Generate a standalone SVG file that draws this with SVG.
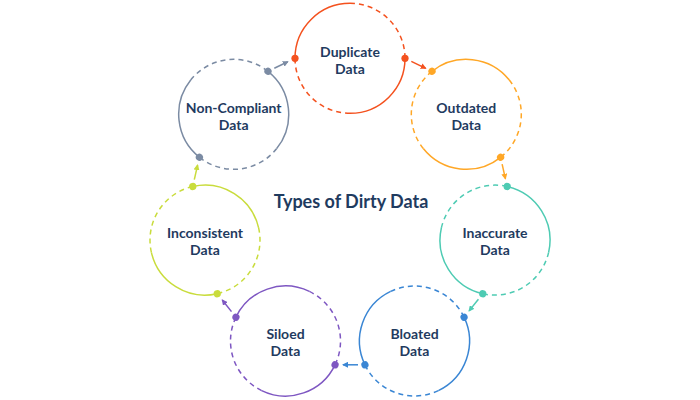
<svg xmlns="http://www.w3.org/2000/svg" xmlns:xlink="http://www.w3.org/1999/xlink" width="700" height="400" viewBox="0 0 700 400">
<style>
.lbl{font-family:Lato,"Liberation Sans",sans-serif;font-weight:700;font-size:14px;fill:#1F3B5F;text-anchor:middle}
.title{font-family:Lato,"Liberation Sans",sans-serif;font-weight:700;font-size:18px;fill:#1F3B5F;text-anchor:middle}
.solid{fill:none;stroke:currentColor;stroke-width:1.5}
.dash{fill:none;stroke:currentColor;stroke-width:1.5;stroke-dasharray:5 4}
.dot{fill:currentColor}
.arr{fill:none;stroke-width:1.5}
</style>
<defs>
<g id="ring">
<path class="solid" d="M0,-55 A55,55 0 0 1 55,0 M0,55 A55,55 0 0 1 -55,0"/>
<path class="dash" d="M55,0 A55,55 0 0 1 0,55 M-55,0 A55,55 0 0 1 0,-55"/>
<circle class="dot" cx="0" cy="-55" r="3.6"/>
<circle class="dot" cx="0" cy="55" r="3.6"/>
</g>
<marker id="m0" viewBox="0 0 6 6" refX="5" refY="3" markerWidth="6" markerHeight="6" markerUnits="userSpaceOnUse" orient="auto"><path d="M0,0 L6,3 L0,6 Z" fill="#F4511E"/></marker>
<marker id="m1" viewBox="0 0 6 6" refX="5" refY="3" markerWidth="6" markerHeight="6" markerUnits="userSpaceOnUse" orient="auto"><path d="M0,0 L6,3 L0,6 Z" fill="#FFA726"/></marker>
<marker id="m2" viewBox="0 0 6 6" refX="5" refY="3" markerWidth="6" markerHeight="6" markerUnits="userSpaceOnUse" orient="auto"><path d="M0,0 L6,3 L0,6 Z" fill="#4ECBB3"/></marker>
<marker id="m3" viewBox="0 0 6 6" refX="5" refY="3" markerWidth="6" markerHeight="6" markerUnits="userSpaceOnUse" orient="auto"><path d="M0,0 L6,3 L0,6 Z" fill="#3A86D4"/></marker>
<marker id="m4" viewBox="0 0 6 6" refX="5" refY="3" markerWidth="6" markerHeight="6" markerUnits="userSpaceOnUse" orient="auto"><path d="M0,0 L6,3 L0,6 Z" fill="#7E57C2"/></marker>
<marker id="m5" viewBox="0 0 6 6" refX="5" refY="3" markerWidth="6" markerHeight="6" markerUnits="userSpaceOnUse" orient="auto"><path d="M0,0 L6,3 L0,6 Z" fill="#C9DC3C"/></marker>
<marker id="m6" viewBox="0 0 6 6" refX="5" refY="3" markerWidth="6" markerHeight="6" markerUnits="userSpaceOnUse" orient="auto"><path d="M0,0 L6,3 L0,6 Z" fill="#7B8BA3"/></marker>
</defs>
<rect width="700" height="400" fill="#FFFFFF"/>
<text class="title" x="351" y="208">Types of Dirty Data</text>

<g id="n-duplicate">
<use xlink:href="#ring" href="#ring" color="#F4511E" transform="translate(350,58.3) rotate(-90)"/>
<text class="lbl" x="350" y="56.5">Duplicate</text>
<text class="lbl" x="350" y="73.5">Data</text>
</g>
<g id="n-outdated">
<use xlink:href="#ring" href="#ring" color="#FFA726" transform="translate(466.3,114.3) rotate(-38.571)"/>
<text class="lbl" x="466.3" y="112.5">Outdated</text>
<text class="lbl" x="466.3" y="129.5">Data</text>
</g>
<g id="n-inaccurate">
<use xlink:href="#ring" href="#ring" color="#4ECBB3" transform="translate(495,240.1) rotate(12.857)"/>
<text class="lbl" x="495" y="238.3">Inaccurate</text>
<text class="lbl" x="495" y="255.3">Data</text>
</g>
<g id="n-bloated">
<use xlink:href="#ring" href="#ring" color="#3A86D4" transform="translate(414.5,341) rotate(64.286)"/>
<text class="lbl" x="414.5" y="339.2">Bloated</text>
<text class="lbl" x="414.5" y="356.2">Data</text>
</g>
<g id="n-siloed">
<use xlink:href="#ring" href="#ring" color="#7E57C2" transform="translate(285.5,341) rotate(115.714)"/>
<text class="lbl" x="285.5" y="339.2">Siloed</text>
<text class="lbl" x="285.5" y="356.2">Data</text>
</g>
<g id="n-inconsistent">
<use xlink:href="#ring" href="#ring" color="#C9DC3C" transform="translate(205,240.1) rotate(167.143)"/>
<text class="lbl" x="205" y="238.3">Inconsistent</text>
<text class="lbl" x="205" y="255.3">Data</text>
</g>
<g id="n-noncompliant">
<use xlink:href="#ring" href="#ring" color="#7B8BA3" transform="translate(233.7,114.3) rotate(218.571)"/>
<text class="lbl" x="233.7" y="112.5">Non-Compliant</text>
<text class="lbl" x="233.7" y="129.5">Data</text>
</g>

<g id="connectors">
<line class="arr" stroke="#F4511E" x1="411.3" y1="61.3" x2="425.7" y2="68.3" marker-end="url(#m0)"/>
<line class="arr" stroke="#FFA726" x1="502.1" y1="164.1" x2="505.4" y2="178.7" marker-end="url(#m1)"/>
<line class="arr" stroke="#4ECBB3" x1="478.4" y1="299.2" x2="469.1" y2="310.9" marker-end="url(#m2)"/>
<line class="arr" stroke="#3A86D4" x1="358" y1="364.8" x2="343" y2="364.8" marker-end="url(#m3)"/>
<line class="arr" stroke="#7E57C2" x1="231.5" y1="311.6" x2="222.3" y2="300" marker-end="url(#m4)"/>
<line class="arr" stroke="#C9DC3C" x1="194.3" y1="179.7" x2="197.6" y2="165.1" marker-end="url(#m5)"/>
<line class="arr" stroke="#7B8BA3" x1="274.3" y1="68.3" x2="287.8" y2="61.8" marker-end="url(#m6)"/>
</g>
</svg>
